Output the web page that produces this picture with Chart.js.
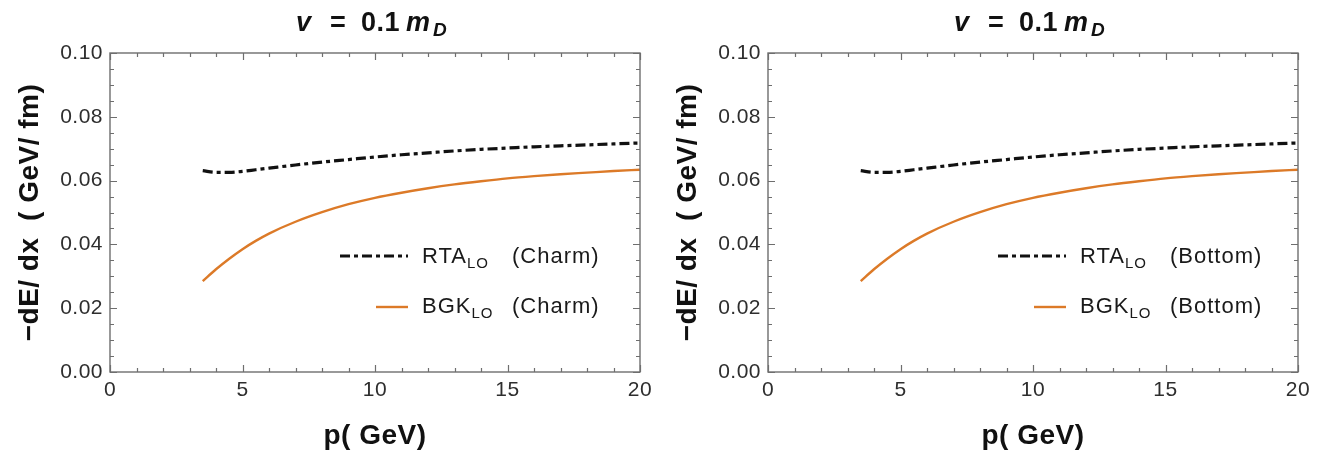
<!DOCTYPE html>
<html><head><meta charset="utf-8">
<script src="https://cdn.jsdelivr.net/npm/chart.js@4.4.0/dist/chart.umd.min.js"></script>
<style>
html,body{margin:0;padding:0;background:#fff;}
#wrap{position:relative;width:1335px;height:455px;overflow:hidden;background:#fff;}
.panel{position:absolute;top:0;height:455px;}
canvas{display:block;}
</style></head><body>
<div id="wrap">
<div class="panel" style="left:0;width:658px"><canvas id="c1" width="658" height="455"></canvas></div>
<div class="panel" style="left:658px;width:677px"><canvas id="c2" width="677" height="455"></canvas></div>
</div>
<script>
// ---- data ----
const momentumGeV = [3.5, 4, 4.5, 5, 5.5, 6, 7, 8, 9, 10, 11, 12, 13, 14, 15, 16, 17, 18, 19, 20];
const rtaCharm  = [0.0631, 0.0626, 0.0626, 0.0629, 0.0634, 0.0639, 0.0649, 0.0658, 0.0666, 0.0674, 0.0681, 0.0687, 0.0693, 0.0698, 0.0702, 0.0706, 0.0709, 0.0712, 0.0715, 0.0718];
const bgkCharm  = [0.0285, 0.0322, 0.0355, 0.0385, 0.0411, 0.0434, 0.0471, 0.0501, 0.0526, 0.0546, 0.0562, 0.0576, 0.0588, 0.0598, 0.0607, 0.0614, 0.0620, 0.0625, 0.0630, 0.0634];
const rtaBottom = [0.0631, 0.0626, 0.0626, 0.0629, 0.0634, 0.0639, 0.0649, 0.0658, 0.0666, 0.0674, 0.0681, 0.0687, 0.0693, 0.0698, 0.0702, 0.0706, 0.0709, 0.0712, 0.0715, 0.0718];
const bgkBottom = [0.0285, 0.0322, 0.0355, 0.0385, 0.0411, 0.0434, 0.0471, 0.0501, 0.0526, 0.0546, 0.0562, 0.0576, 0.0588, 0.0598, 0.0607, 0.0614, 0.0620, 0.0625, 0.0630, 0.0634];
const xTickValues = [0, 5, 10, 15, 20];
const yTickValues = [0, 0.02, 0.04, 0.06, 0.08, 0.10];
const yTickLabels = ['0.00', '0.02', '0.04', '0.06', '0.08', '0.10'];
const xMinorPerMajor = 5;   // minor divisions
const yMinorPerMajor = 4;
const xAxisTitle = 'p( GeV)';
const yAxisTitle = '\u2212dE/ dx  ( GeV/ fm)';
const seriesNames = ['RTA', 'BGK'];
const seriesSub = 'LO';
const panelFlavours = ['(Charm)', '(Bottom)'];

const FONT = '"Liberation Sans", Arial, Helvetica, sans-serif';
const ORANGE = '#dc7a28';

function toPts(xs, ys){ return xs.map((x,i)=>({x:x, y:ys[i]})); }

const spacingPlugin = {
  id:'spacing',
  beforeDraw(chart){ try{ chart.ctx.letterSpacing = '0.5px'; }catch(e){} }
};

const framePlugin = {
  id:'frame',
  afterDatasetsDraw(chart){
    const {ctx, chartArea:a, scales:{x, y}} = chart;
    ctx.save();
    ctx.strokeStyle = '#6e6e6e';
    ctx.lineWidth = 1.4;
    ctx.strokeRect(a.left, a.top, a.right-a.left, a.bottom-a.top);
    ctx.lineWidth = 1.2;
    const ticks = (vals, n) => {
      const out = [];
      for (let i=0;i<vals.length;i++){
        out.push({v:vals[i], major:true});
        if (i<vals.length-1){
          const step = (vals[i+1]-vals[i])/n;
          for (let k=1;k<n;k++) out.push({v:vals[i]+k*step, major:false});
        }
      }
      return out;
    };
    ctx.beginPath();
    ticks(xTickValues, xMinorPerMajor).forEach(t=>{
      const px = Math.round(x.getPixelForValue(t.v))+0.5;
      const L = t.major ? 7 : 4;
      ctx.moveTo(px, a.bottom); ctx.lineTo(px, a.bottom-L);
      ctx.moveTo(px, a.top); ctx.lineTo(px, a.top+L);
    });
    ticks(yTickValues, yMinorPerMajor).forEach(t=>{
      const py = Math.round(y.getPixelForValue(t.v))+0.5;
      const L = t.major ? 7 : 4;
      ctx.moveTo(a.left, py); ctx.lineTo(a.left+L, py);
      ctx.moveTo(a.right, py); ctx.lineTo(a.right-L, py);
    });
    ctx.stroke();
    ctx.restore();
  }
};

const titlePlugin = {
  id:'panelTitle',
  afterDraw(chart){
    const {ctx, chartArea:a} = chart;
    const cx = (a.left+a.right)/2;
    const base = 31;
    ctx.save();
    try{ ctx.letterSpacing = '0.5px'; }catch(e){}
    ctx.fillStyle = '#111';
    ctx.textBaseline = 'alphabetic';
    ctx.textAlign = 'left';
    ctx.font = 'italic bold 27px ' + FONT;
    ctx.fillText('v', cx-79, base);
    ctx.font = 'bold 27px ' + FONT;
    ctx.fillText('=', cx-45, base);
    ctx.fillText('0.1', cx-14, base);
    ctx.font = 'italic bold 27px ' + FONT;
    ctx.fillText('m', cx+31, base);
    ctx.font = 'italic bold 19px ' + FONT;
    ctx.fillText('D', cx+58, base+5);
    ctx.restore();
  }
};

const legendPlugin = {
  id:'innerLegend',
  afterDraw(chart){
    const {ctx, chartArea:a} = chart;
    const flav = chart.options.plugins.innerLegend.flavour;
    const ds = chart.data.datasets;
    const rows = [
      {ds:ds[0], x0:a.left+230, y:a.top+203, base:a.top+210, name:seriesNames[0]},
      {ds:ds[1], x0:a.left+266, y:a.top+254, base:a.top+260, name:seriesNames[1]}
    ];
    ctx.save();
    rows.forEach(r=>{
      ctx.beginPath();
      ctx.strokeStyle = r.ds.borderColor;
      ctx.lineWidth = r.ds.borderWidth;
      ctx.setLineDash(r.ds.borderDash || []);
      ctx.moveTo(r.x0, r.y); ctx.lineTo(a.left+298, r.y);
      ctx.stroke();
      ctx.setLineDash([]);
      try{ ctx.letterSpacing = '1px'; }catch(e){}
      ctx.fillStyle = '#1a1a1a';
      ctx.textAlign = 'left';
      ctx.textBaseline = 'alphabetic';
      const tx = a.left+312;
      ctx.font = '22px ' + FONT;
      ctx.fillText(r.name, tx, r.base);
      const w = ctx.measureText(r.name).width;
      ctx.font = '15px ' + FONT;
      ctx.fillText(seriesSub, tx+w, r.base+5);
      ctx.font = '22px ' + FONT;
      ctx.fillText(flav, tx+90, r.base);
    });
    ctx.restore();
  }
};

function makePanel(id, rta, bgk, flavour, rightPad){
  return new Chart(document.getElementById(id), {
    type:'scatter',
    data:{ datasets:[
      { label:seriesNames[0]+seriesSub+' '+flavour, data:toPts(momentumGeV, rta), showLine:true,
        borderColor:'#111', borderWidth:3.2, borderDash:[10,4,4,4], pointRadius:0, cubicInterpolationMode:'monotone', fill:false },
      { label:seriesNames[1]+seriesSub+' '+flavour, data:toPts(momentumGeV, bgk), showLine:true,
        borderColor:ORANGE, borderWidth:2.4, pointRadius:0, cubicInterpolationMode:'monotone', fill:false }
    ]},
    options:{
      responsive:false, animation:false, devicePixelRatio:1,
      layout:{ padding:{ top:53, right:rightPad, bottom:0, left:0 } },
      plugins:{ legend:{display:false}, tooltip:{enabled:false}, title:{display:false},
                innerLegend:{flavour:flavour} },
      scales:{
        x:{ type:'linear', min:0, max:20,
            afterBuildTicks:(s)=>{ s.ticks = xTickValues.map(v=>({value:v})); },
            afterFit:(s)=>{ s.height = 83; },
            grid:{display:false, drawTicks:false}, border:{display:false},
            ticks:{ padding:6, color:'#2e2e2e', font:{family:FONT, size:21}, maxRotation:0, autoSkip:false,
                    callback:(v)=>String(v) },
            title:{ display:true, text:xAxisTitle, color:'#111', font:{family:FONT, size:28, weight:'bold'}, padding:{top:0, bottom:2} } },
        y:{ type:'linear', min:0, max:0.1,
            afterBuildTicks:(s)=>{ s.ticks = yTickValues.map(v=>({value:v})); },
            afterFit:(s)=>{ s.width = 110; },
            grid:{display:false, drawTicks:false}, border:{display:false},
            ticks:{ padding:7, color:'#2e2e2e', font:{family:FONT, size:21}, autoSkip:false,
                    callback:(v)=>{ const i = yTickValues.findIndex(t=>Math.abs(t-v)<1e-9); return i>=0 ? yTickLabels[i] : ''; } },
            title:{ display:true, text:yAxisTitle, color:'#111', font:{family:FONT, size:28, weight:'bold'}, padding:{top:13, bottom:0} } }
      }
    },
    plugins:[spacingPlugin, framePlugin, titlePlugin, legendPlugin]
  });
}

makePanel('c1', rtaCharm, bgkCharm, panelFlavours[0], 18);
makePanel('c2', rtaBottom, bgkBottom, panelFlavours[1], 37);
</script>
</body></html>
